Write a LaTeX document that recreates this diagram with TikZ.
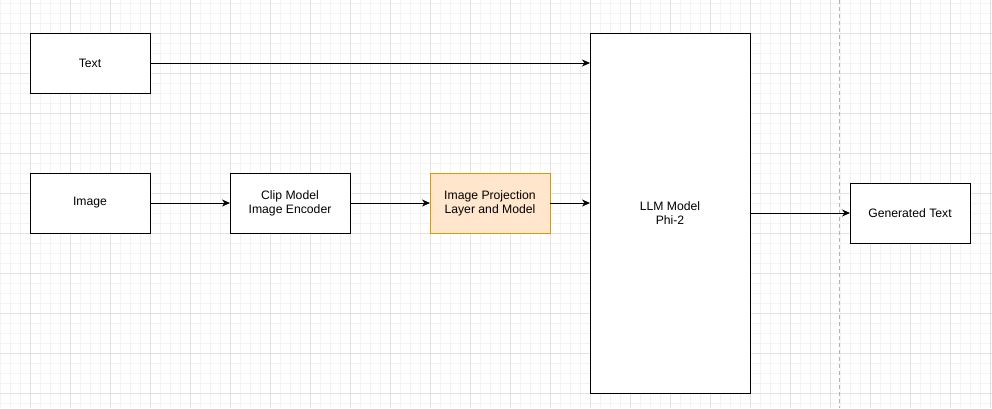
\documentclass[tikz,border=0pt]{standalone}
\usepackage{fontspec}
\setmainfont{Liberation Sans}
\usepackage{tikz}
\usetikzlibrary{arrows.meta,positioning}

\definecolor{gridminor}{HTML}{F3F3F3}
\definecolor{gridmajor}{HTML}{E2E2E2}
\definecolor{projfill}{HTML}{FFE6CC}
\definecolor{projdraw}{HTML}{D79B00}

\tikzset{
  block/.style={draw=black,line width=1pt,fill=white,minimum width=120pt,minimum height=60pt,
    inner sep=0pt,outer sep=0pt,align=center,font=\fontsize{12.2}{14}\selectfont},
  projblock/.style={block,fill=projfill,draw=projdraw},
  link/.style={->,line width=1pt}
}

\begin{document}
\begin{tikzpicture}[x=1pt,y=-1pt,>={Stealth[length=8pt,width=7pt,inset=2.5pt]},node distance=80pt]
  \useasboundingbox (0,0) rectangle (992,408);
  % grid
  \foreach \x in {0,10,...,990} \draw[gridminor,line width=0.6pt] (\x,0) -- (\x,408);
  \foreach \y in {3,13,...,403} \draw[gridminor,line width=0.6pt] (0,\y) -- (992,\y);
  \foreach \x in {30,70,...,990} \draw[gridmajor,line width=0.8pt] (\x,0) -- (\x,408);
  \foreach \y in {33,73,...,393} \draw[gridmajor,line width=0.8pt] (0,\y) -- (992,\y);
  \draw[black!30,line width=0.8pt,dash pattern=on 4pt off 3pt] (839,0) -- (839,408);

  \node[block] (text) at (90,63) {Text};
  \node[block] (image) [below=of text] {Image};
  \node[block] (clip) [right=of image] {Clip Model\\Image Encoder};
  \node[projblock] (proj) [right=of clip] {Image Projection\\Layer and Model};
  \node[block,minimum width=160pt,minimum height=360pt] (llm) at (670,213) {LLM Model\\Phi-2};
  \node[block] (gen) [right=100pt of llm] {Generated Text};

  \draw[link] (text.east) -- (text.east -| llm.west);
  \draw[link] (image) -- (clip);
  \draw[link] (clip) -- (proj);
  \draw[link] (proj) -- (proj -| llm.west);
  \draw[link] (llm) -- (gen);
\end{tikzpicture}
\end{document}
